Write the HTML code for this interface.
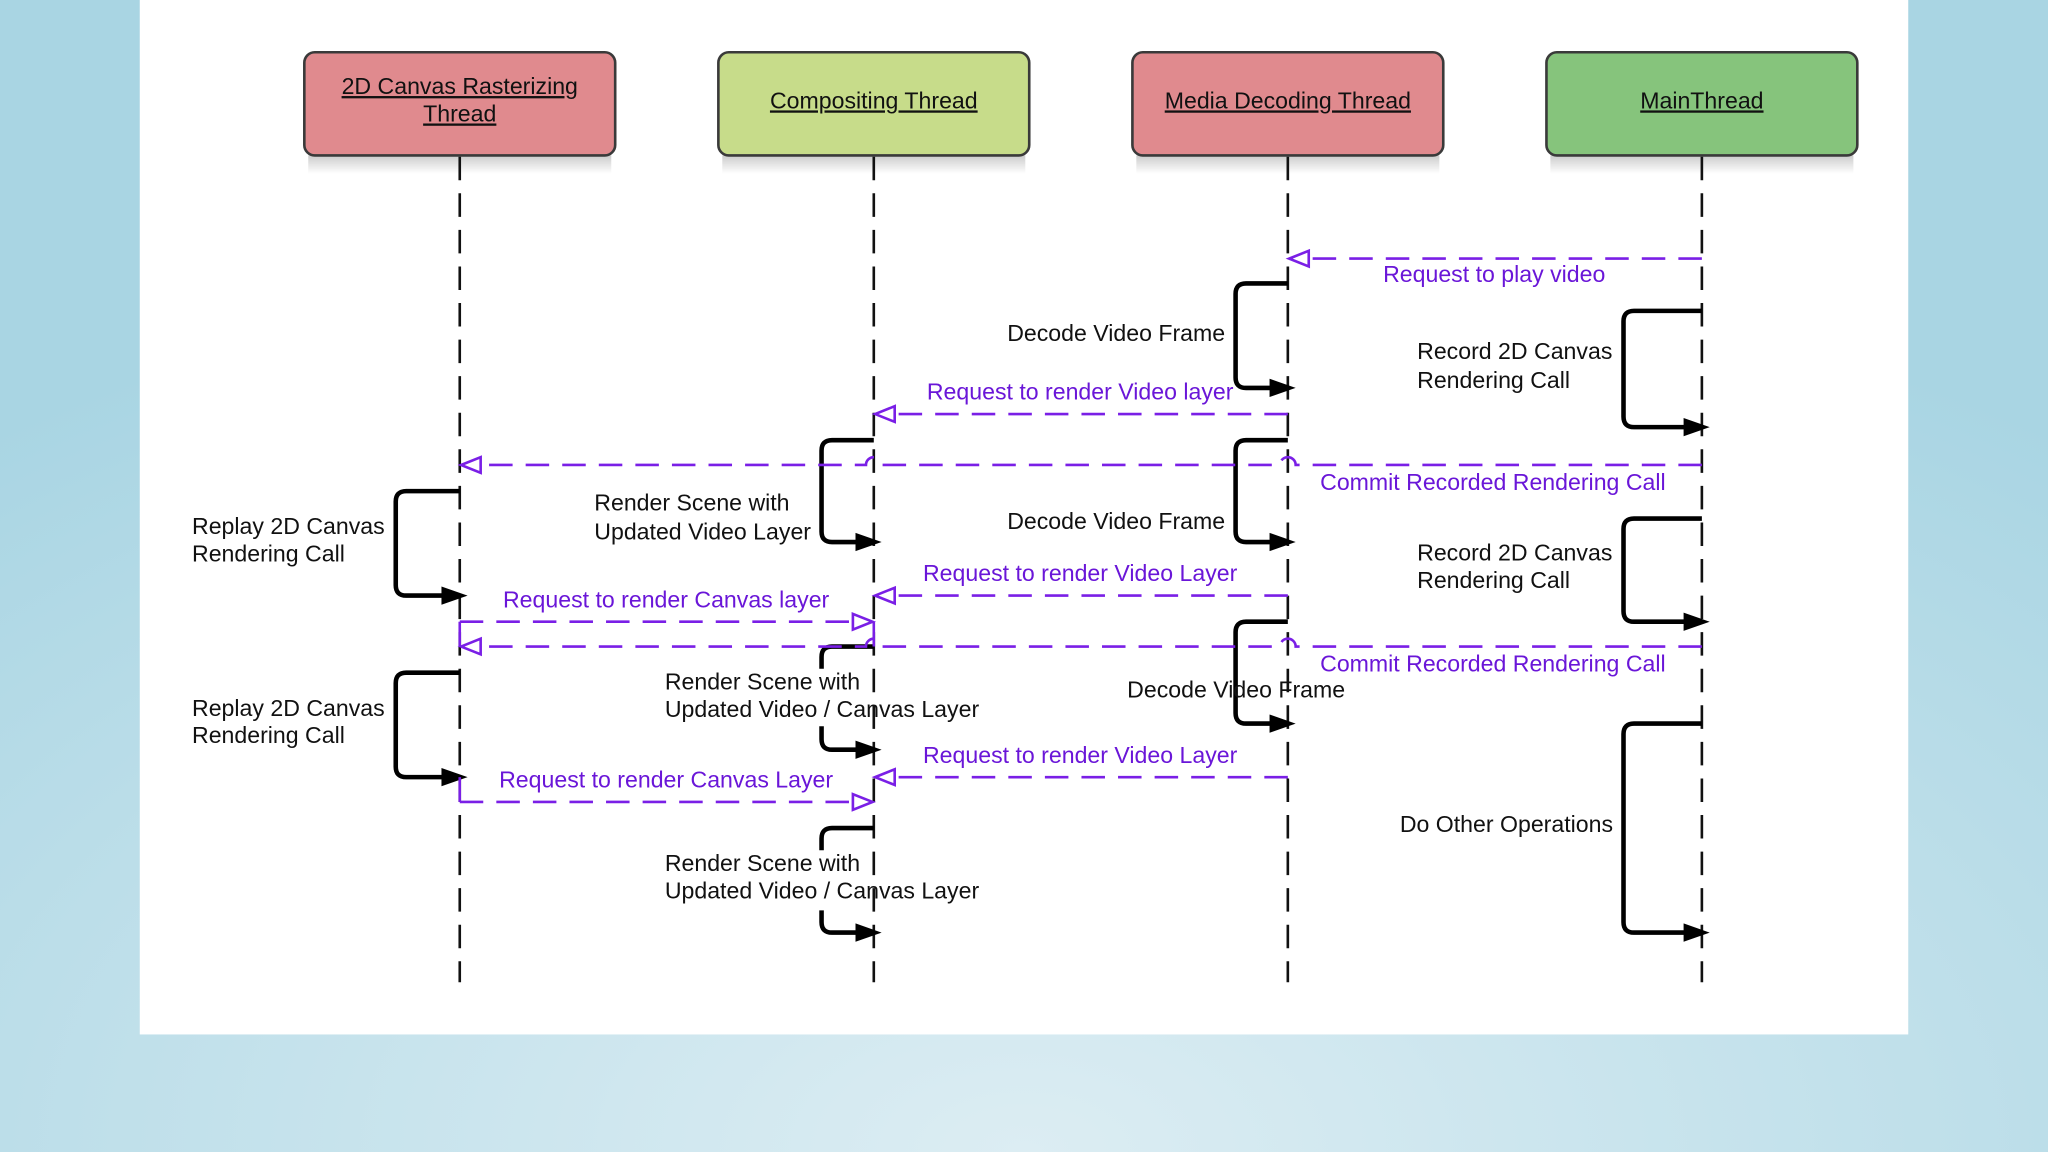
<!DOCTYPE html>
<html><head><meta charset="utf-8"><style>
html,body{margin:0;padding:0;width:2048px;height:1152px;overflow:hidden}
svg{display:block}
text{font-family:"Liberation Sans",sans-serif;font-size:17.7px}
</style></head><body>
<svg width="2048" height="1152" viewBox="0 0 1568 882" xmlns="http://www.w3.org/2000/svg">
<defs>
<radialGradient id="bg" cx="0.5" cy="1" r="0.8">
<stop offset="0" stop-color="#dcedf3"/><stop offset="1" stop-color="#a9d5e3"/>
</radialGradient>
<linearGradient id="sh" x1="0" y1="0" x2="0" y2="1">
<stop offset="0" stop-color="#000" stop-opacity="0.2"/><stop offset="1" stop-color="#000" stop-opacity="0"/>
</linearGradient>
</defs>
<rect width="1568" height="882" fill="url(#bg)"/>
<rect x="107" y="0" width="1354" height="792" fill="#fff"/>

<g fill="url(#sh)">
<rect x="236" y="119" width="232" height="14"/>
<rect x="553" y="119" width="232" height="14"/>
<rect x="870" y="119" width="232" height="14"/>
<rect x="1187" y="119" width="232" height="14"/>
</g>
<g stroke="#3a3a3a" stroke-width="2">
<rect x="233" y="40" width="238" height="79" rx="8" fill="#e08a8e"/>
<rect x="550" y="40" width="238" height="79" rx="8" fill="#c7dc8a"/>
<rect x="867" y="40" width="238" height="79" rx="8" fill="#e08a8e"/>
<rect x="1184" y="40" width="238" height="79" rx="8" fill="#86c47c"/>
</g>
<g text-anchor="middle" fill="#111">
<text x="352" y="72" text-decoration="underline">2D Canvas Rasterizing</text>
<text x="352" y="93" text-decoration="underline">Thread</text>
<text x="669" y="83" text-decoration="underline">Compositing Thread</text>
<text x="986" y="83" text-decoration="underline">Media Decoding Thread</text>
<text x="1303" y="83" text-decoration="underline">MainThread</text>
</g>

<g stroke="#111" stroke-width="2" stroke-dasharray="18,10">
<line x1="352" y1="120" x2="352" y2="752"/>
<line x1="669" y1="120" x2="669" y2="752"/>
<line x1="986" y1="120" x2="986" y2="752"/>
<line x1="1303" y1="120" x2="1303" y2="752"/>
</g>

<g fill="none" stroke="#000" stroke-width="3.5" stroke-linejoin="round">
<path d="M986 217 H954 Q946 217 946 225 V289 Q946 297 954 297 H975"/>
<path d="M1303 238 H1251 Q1243 238 1243 246 V319 Q1243 327 1251 327 H1292"/>
<path d="M669 337 H637 Q629 337 629 345 V407 Q629 415 637 415 H658"/>
<path d="M986 337 H954 Q946 337 946 345 V407 Q946 415 954 415 H975"/>
<path d="M352 376 H311 Q303 376 303 384 V448 Q303 456 311 456 H341"/>
<path d="M1303 397 H1251 Q1243 397 1243 405 V468 Q1243 476 1251 476 H1292"/>
<path d="M986 476 H954 Q946 476 946 484 V546 Q946 554 954 554 H975"/>
<path d="M669 495 H637 Q629 495 629 503 V512"/>
<path d="M629 556 V566 Q629 574 637 574 H658"/>
<path d="M352 515 H311 Q303 515 303 523 V587 Q303 595 311 595 H341"/>
<path d="M1303 554 H1251 Q1243 554 1243 562 V706 Q1243 714 1251 714 H1292"/>
<path d="M669 634 H637 Q629 634 629 642 V651"/>
<path d="M629 697 V706 Q629 714 637 714 H658"/>
</g>
<g fill="#000">
<path d="M992 297 L972 290 V304 Z"/>
<path d="M1309 327 L1289 320 V334 Z"/>
<path d="M675 415 L655 408 V422 Z"/>
<path d="M992 415 L972 408 V422 Z"/>
<path d="M358 456 L338 449 V463 Z"/>
<path d="M1309 476 L1289 469 V483 Z"/>
<path d="M992 554 L972 547 V561 Z"/>
<path d="M675 574 L655 567 V581 Z"/>
<path d="M358 595 L338 588 V602 Z"/>
<path d="M1309 714 L1289 707 V721 Z"/>
<path d="M675 714 L655 707 V721 Z"/>
</g>

<g fill="none" stroke="#7a1fe6" stroke-width="2" stroke-dasharray="18,10">
<line x1="1303" y1="198" x2="1000" y2="198"/>
<line x1="986" y1="317" x2="683" y2="317"/>
<path d="M1303 356 H992 A6 6 0 0 0 980 356 H675 A6 6 0 0 0 663 356 H366"/>
<line x1="986" y1="456" x2="683" y2="456"/>
<line x1="352" y1="476" x2="655" y2="476"/>
<path d="M1303 495 H992 A6 6 0 0 0 980 495 H675 A6 6 0 0 0 663 495 H366"/>
<line x1="986" y1="595" x2="683" y2="595"/>
<line x1="352" y1="614" x2="655" y2="614"/>
</g>
<g stroke="#7a1fe6" stroke-width="2" fill="#fff">
<line x1="352" y1="476" x2="352" y2="495"/>
<line x1="352" y1="595" x2="352" y2="614"/>
<line x1="669" y1="476" x2="669" y2="495"/>
<path d="M987 198 L1002 192 V204 Z"/>
<path d="M670 317 L685 311 V323 Z"/>
<path d="M353 356 L368 350 V362 Z"/>
<path d="M670 456 L685 450 V462 Z"/>
<path d="M668 476 L653 470 V482 Z"/>
<path d="M353 495 L368 489 V501 Z"/>
<path d="M670 595 L685 589 V601 Z"/>
<path d="M668 614 L653 608 V620 Z"/>
</g>

<g fill="#6a16d8" text-anchor="middle">
<text x="1144" y="216">Request to play video</text>
<text x="827" y="306">Request to render Video layer</text>
<text x="1143" y="375">Commit Recorded Rendering Call</text>
<text x="827" y="445">Request to render Video Layer</text>
<text x="510" y="465">Request to render Canvas layer</text>
<text x="1143" y="514">Commit Recorded Rendering Call</text>
<text x="827" y="584">Request to render Video Layer</text>
<text x="510" y="603">Request to render Canvas Layer</text>
</g>

<g fill="#111">
<text x="938" y="261" text-anchor="end">Decode Video Frame</text>
<text x="1085" y="275">Record 2D Canvas</text>
<text x="1085" y="297">Rendering Call</text>
<text x="455" y="391">Render Scene with</text>
<text x="455" y="413">Updated Video Layer</text>
<text x="938" y="405" text-anchor="end">Decode Video Frame</text>
<text x="147" y="409">Replay 2D Canvas</text>
<text x="147" y="430">Rendering Call</text>
<text x="1085" y="429">Record 2D Canvas</text>
<text x="1085" y="450">Rendering Call</text>
<text x="863" y="534">Decode Video Frame</text>
<text x="509" y="528">Render Scene with</text>
<text x="509" y="549">Updated Video / Canvas Layer</text>
<text x="147" y="548">Replay 2D Canvas</text>
<text x="147" y="569">Rendering Call</text>
<text x="1235" y="637" text-anchor="end">Do Other Operations</text>
<text x="509" y="667">Render Scene with</text>
<text x="509" y="688">Updated Video / Canvas Layer</text>
</g>
</svg>
</body></html>
